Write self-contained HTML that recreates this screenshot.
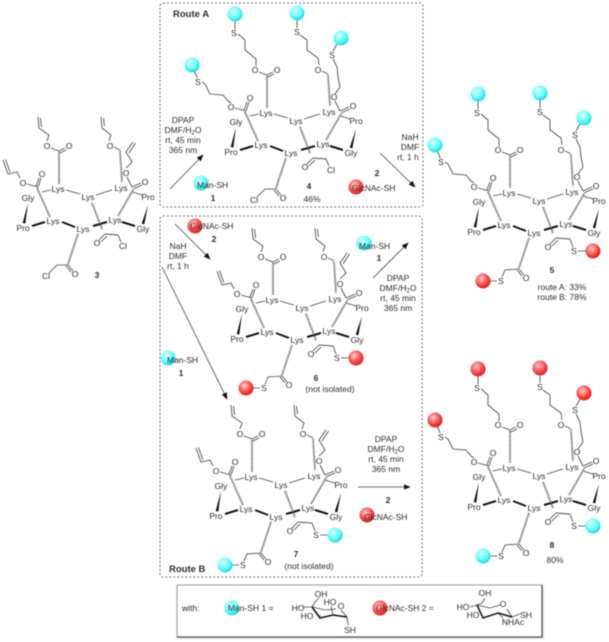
<!DOCTYPE html>
<html><head><meta charset="utf-8"><style>
html,body{margin:0;padding:0;background:#fff}
svg{display:block;filter:blur(.45px)}
text{font-family:"Liberation Sans",sans-serif;font-size:8.5px;fill:#2c2c2c}
.m{text-anchor:middle}
.b{font-weight:bold}
.l{fill:none;stroke:#444;stroke-width:.85}
.th{fill:none;stroke:#111;stroke-width:2}
.w{fill:none;stroke:#555;stroke-width:2;stroke-dasharray:1 .8}
.a{fill:none;stroke:#444;stroke-width:.8}
</style></head><body>
<svg width="609" height="642" viewBox="0 0 609 642" xmlns="http://www.w3.org/2000/svg">
<defs>
<radialGradient id="c" cx=".4" cy=".35" r=".7"><stop offset="0" stop-color="#e8ffff"/><stop offset=".6" stop-color="#5ff"/><stop offset="1" stop-color="#1cd"/></radialGradient>
<radialGradient id="r" cx=".4" cy=".35" r=".7"><stop offset="0" stop-color="#ffd0d0"/><stop offset=".6" stop-color="#f44"/><stop offset="1" stop-color="#d11"/></radialGradient>
<marker id="ah" viewBox="0 0 10 8" refX="9" refY="4" markerWidth="7" markerHeight="5.500" markerUnits="userSpaceOnUse" orient="auto"><path d="M0 0L10 4L0 8z" fill="#111"/></marker>
<g id="core">
<path class="l" d="M66 190L80 194M96 195L112 190M42 192L51 190M132 192L142 195M38 187L41 178M36 186L39 178M59 151L65 148M60 153L66 150M51 148L59 151M27 184L38 187M132 187L141 183M133 189L142 185M127 177L132 187M114 147L120 150M105 234L99 240M107 236L101 242M105 234L118 235M68 265L73 271M66 266L71 272"/>
<path class="th" d="M32 226L45 222M62 222L75 227M93 226L107 222M122 222L135 226"/>
<path d="M28 203L22.700 223L25.300 223.600z M148 205L141.700 223.600L144.300 224.400z" fill="#111"/>
<path class="w" d="M59 152L59 184M37 188L50 217M120 151L122 182M133 190L118 216M92 203L102 229M78 234L68 264"/>
</g>
<path id="allyl" class="l" d="M20 178L17 172L8 174L3 160M5.500 159.500L10 172M47 141L49 135L39 128L38 117M40.500 118L41.500 127M109 141L111 135L102 128L101 117M103.500 118L104.500 126M126 168L132 162L126 152L133 142M135.500 143L129 153"/>
<path id="arms" class="l" d="M23 179L20 177L15 171L2 170L-3 160L-6 158M-11 154L-12 151L-14 147M48 142L48 135L37 126L37 116L30 110M27 105L27 97M111 141L110 134L99 126L99 116L92 111M89 104L89 96M127 170L132 163L130 153L129 143L125 135M125 127L129 120"/>
<path id="cl" class="l" d="M105 234L118 235L121 242M68 265L57 265L49 273"/>
<path id="sarm" class="l" d="M105 234L119 235L122 243M127 247L135 247M68 265L54 266L51 273M46 277L39 277"/>
</defs>
<rect width="609" height="642" fill="#fff"/>

<!-- boxes -->
<rect x="160" y="3" width="263" height="204" rx="3" fill="none" stroke="#444" stroke-width=".8" stroke-dasharray="2 2"/>
<rect x="160" y="216" width="262" height="361" rx="3" fill="none" stroke="#444" stroke-width=".8" stroke-dasharray="2 2"/>
<text x="173" y="17" style="font-size:9.500px" class="b">Route A</text>
<text x="169" y="572" style="font-size:9.500px" class="b">Route B</text>

<!-- compound 3 -->
<use href="#core"/><use href="#allyl"/><use href="#cl"/>
<g class="m">
<text class="m" x="58" y="192">Lys</text><text class="m" x="88" y="200">Lys</text><text class="m" x="121" y="191">Lys</text><text class="m" x="53" y="224">Lys</text><text class="m" x="83" y="232">Lys</text><text class="m" x="115" y="223">Lys</text>
<text class="m" x="28" y="201">Gly</text><text class="m" x="23" y="231">Pro</text><text class="m" x="148" y="200">Pro</text><text class="m" x="143" y="232">Gly</text>
<text class="m" x="42" y="177">O</text><text class="m" x="69" y="149">O</text><text class="m" x="145" y="185">O</text><text class="m" x="97" y="246">O</text><text class="m" x="75" y="277">O</text>
<text class="m" x="23" y="186">O</text><text class="m" x="47" y="149">O</text><text class="m" x="110" y="149">O</text><text class="m" x="126" y="176">O</text>
<text class="m" x="123" y="249">Cl</text><text class="m" x="46" y="279">Cl</text>
<text class="m b" x="97" y="278">3</text>
</g>

<!-- compound 4 -->
<g transform="translate(208,-76)">
<use href="#core"/><use href="#arms"/><use href="#cl"/>
<circle cx="-16" cy="141" r="7.500" fill="url(#c)"/><circle cx="27" cy="90" r="7.500" fill="url(#c)"/><circle cx="89" cy="89" r="7.500" fill="url(#c)"/><circle cx="133" cy="114" r="7.500" fill="url(#c)"/>
<text class="m" x="-10" y="161">S</text><text class="m" x="26" y="112">S</text><text class="m" x="89" y="111">S</text><text class="m" x="124" y="134">S</text>
<text class="m" x="58" y="192">Lys</text><text class="m" x="88" y="200">Lys</text><text class="m" x="121" y="191">Lys</text><text class="m" x="53" y="224">Lys</text><text class="m" x="83" y="232">Lys</text><text class="m" x="115" y="223">Lys</text>
<text class="m" x="28" y="201">Gly</text><text class="m" x="23" y="231">Pro</text><text class="m" x="148" y="200">Pro</text><text class="m" x="143" y="232">Gly</text>
<text class="m" x="42" y="177">O</text><text class="m" x="69" y="149">O</text><text class="m" x="145" y="185">O</text><text class="m" x="97" y="246">O</text><text class="m" x="75" y="277">O</text>
<text class="m" x="23" y="186">O</text><text class="m" x="47" y="149">O</text><text class="m" x="110" y="149">O</text><text class="m" x="126" y="176">O</text>
<text class="m" x="123" y="249">Cl</text><text class="m" x="46" y="279">Cl</text>
</g>
<text class="m b" x="309" y="189">4</text><text class="m" x="312" y="202">46%</text>

<!-- compound 6 -->
<g transform="translate(214,111)">
<use href="#core"/><use href="#allyl"/><use href="#sarm"/>
<circle cx="142" cy="247" r="7.500" fill="url(#r)"/><circle cx="32" cy="277" r="7.500" fill="url(#r)"/>
<text class="m" x="123" y="250">S</text><text class="m" x="50" y="280">S</text>
<text class="m" x="58" y="192">Lys</text><text class="m" x="88" y="200">Lys</text><text class="m" x="121" y="191">Lys</text><text class="m" x="53" y="224">Lys</text><text class="m" x="83" y="232">Lys</text><text class="m" x="115" y="223">Lys</text>
<text class="m" x="28" y="201">Gly</text><text class="m" x="23" y="231">Pro</text><text class="m" x="148" y="200">Pro</text><text class="m" x="143" y="232">Gly</text>
<text class="m" x="42" y="177">O</text><text class="m" x="69" y="149">O</text><text class="m" x="145" y="185">O</text><text class="m" x="97" y="246">O</text><text class="m" x="75" y="277">O</text>
<text class="m" x="23" y="186">O</text><text class="m" x="47" y="149">O</text><text class="m" x="110" y="149">O</text><text class="m" x="126" y="176">O</text>
</g>
<text class="m b" x="316" y="381">6</text><text class="m" x="330" y="392">(not isolated)</text>

<!-- compound 7 -->
<g transform="translate(193,288)">
<use href="#core"/><use href="#allyl"/><use href="#sarm"/>
<circle cx="142" cy="247" r="7.500" fill="url(#c)"/><circle cx="32" cy="277" r="7.500" fill="url(#c)"/>
<text class="m" x="123" y="250">S</text><text class="m" x="50" y="280">S</text>
<text class="m" x="58" y="192">Lys</text><text class="m" x="88" y="200">Lys</text><text class="m" x="121" y="191">Lys</text><text class="m" x="53" y="224">Lys</text><text class="m" x="83" y="232">Lys</text><text class="m" x="115" y="223">Lys</text>
<text class="m" x="28" y="201">Gly</text><text class="m" x="23" y="231">Pro</text><text class="m" x="148" y="200">Pro</text><text class="m" x="143" y="232">Gly</text>
<text class="m" x="42" y="177">O</text><text class="m" x="69" y="149">O</text><text class="m" x="145" y="185">O</text><text class="m" x="97" y="246">O</text><text class="m" x="75" y="277">O</text>
<text class="m" x="23" y="186">O</text><text class="m" x="47" y="149">O</text><text class="m" x="110" y="149">O</text><text class="m" x="126" y="176">O</text>
</g>
<text class="m b" x="296" y="557">7</text><text class="m" x="309" y="569">(not isolated)</text>

<!-- compound 5 -->
<g transform="translate(451,4)">
<use href="#core"/><use href="#arms"/><use href="#sarm"/>
<circle cx="-16" cy="141" r="7.500" fill="url(#c)"/><circle cx="27" cy="90" r="7.500" fill="url(#c)"/><circle cx="89" cy="89" r="7.500" fill="url(#c)"/><circle cx="133" cy="114" r="7.500" fill="url(#c)"/>
<circle cx="142" cy="247" r="7.500" fill="url(#r)"/><circle cx="32" cy="277" r="7.500" fill="url(#r)"/>
<text class="m" x="-10" y="161">S</text><text class="m" x="26" y="112">S</text><text class="m" x="89" y="111">S</text><text class="m" x="124" y="134">S</text>
<text class="m" x="123" y="250">S</text><text class="m" x="50" y="280">S</text>
<text class="m" x="58" y="192">Lys</text><text class="m" x="88" y="200">Lys</text><text class="m" x="121" y="191">Lys</text><text class="m" x="53" y="224">Lys</text><text class="m" x="83" y="232">Lys</text><text class="m" x="115" y="223">Lys</text>
<text class="m" x="28" y="201">Gly</text><text class="m" x="23" y="231">Pro</text><text class="m" x="148" y="200">Pro</text><text class="m" x="143" y="232">Gly</text>
<text class="m" x="42" y="177">O</text><text class="m" x="69" y="149">O</text><text class="m" x="145" y="185">O</text><text class="m" x="97" y="246">O</text><text class="m" x="75" y="277">O</text>
<text class="m" x="23" y="186">O</text><text class="m" x="47" y="149">O</text><text class="m" x="110" y="149">O</text><text class="m" x="126" y="176">O</text>
</g>
<text class="m b" x="552" y="273">5</text><text class="m" x="562" y="290">route A: 33%</text><text class="m" x="562" y="300">route B: 78%</text>

<!-- compound 8 -->
<g transform="translate(451,279)">
<use href="#core"/><use href="#arms"/><use href="#sarm"/>
<circle cx="-16" cy="141" r="7.500" fill="url(#r)"/><circle cx="27" cy="90" r="7.500" fill="url(#r)"/><circle cx="89" cy="89" r="7.500" fill="url(#r)"/><circle cx="133" cy="114" r="7.500" fill="url(#r)"/>
<circle cx="142" cy="247" r="7.500" fill="url(#c)"/><circle cx="32" cy="277" r="7.500" fill="url(#c)"/>
<text class="m" x="-10" y="161">S</text><text class="m" x="26" y="112">S</text><text class="m" x="89" y="111">S</text><text class="m" x="124" y="134">S</text>
<text class="m" x="123" y="250">S</text><text class="m" x="50" y="280">S</text>
<text class="m" x="58" y="192">Lys</text><text class="m" x="88" y="200">Lys</text><text class="m" x="121" y="191">Lys</text><text class="m" x="53" y="224">Lys</text><text class="m" x="83" y="232">Lys</text><text class="m" x="115" y="223">Lys</text>
<text class="m" x="28" y="201">Gly</text><text class="m" x="23" y="231">Pro</text><text class="m" x="148" y="200">Pro</text><text class="m" x="143" y="232">Gly</text>
<text class="m" x="42" y="177">O</text><text class="m" x="69" y="149">O</text><text class="m" x="145" y="185">O</text><text class="m" x="97" y="246">O</text><text class="m" x="75" y="277">O</text>
<text class="m" x="23" y="186">O</text><text class="m" x="47" y="149">O</text><text class="m" x="110" y="149">O</text><text class="m" x="126" y="176">O</text>
</g>
<text class="m b" x="552" y="548">8</text><text class="m" x="555" y="563">80%</text>

<!-- arrows -->
<path class="a" d="M170 189L203 155" marker-end="url(#ah)"/>
<path class="a" d="M380 153L415 187" marker-end="url(#ah)"/>
<path class="a" d="M175 224L210 259" marker-end="url(#ah)"/>
<path class="a" d="M162 267L227 399" marker-end="url(#ah)"/>
<path class="a" d="M373 278L408 243" marker-end="url(#ah)"/>
<path class="a" d="M358 487L410 487" marker-end="url(#ah)"/>

<!-- reagents route A -->
<text class="m" x="183" y="123">DPAP</text>
<text class="m" x="183" y="133">DMF/H<tspan dy="1.500" style="font-size:6px">2</tspan><tspan dy="-1.500">O</tspan></text>
<text class="m" x="183" y="143">rt, 45 min</text>
<text class="m" x="183" y="153">365 nm</text>
<circle cx="201" cy="183" r="7.500" fill="url(#c)"/><text x="197" y="188">Man-SH</text>
<text class="m b" x="213" y="201">1</text>
<text class="m" x="410" y="140">NaH</text><text class="m" x="410" y="150">DMF</text><text class="m" x="408" y="160">rt, 1 h</text>
<text class="m b" x="377" y="176">2</text>
<circle cx="356" cy="187" r="7.500" fill="url(#r)"/><text x="352" y="191">GlcNAc-SH</text>

<!-- reagents route B -->
<circle cx="195" cy="226" r="7.500" fill="url(#r)"/><text x="190" y="229">GlcNAc-SH</text>
<text class="m b" x="214" y="242">2</text>
<text class="m" x="178" y="249">NaH</text><text class="m" x="178" y="259">DMF</text><text class="m" x="178" y="269">rt, 1 h</text>
<circle cx="168" cy="358" r="7.500" fill="url(#c)"/><text x="167" y="363">Man-SH</text>
<text class="m b" x="181" y="376">1</text>
<circle cx="364" cy="243" r="7.500" fill="url(#c)"/><text x="359" y="249">Man-SH</text>
<text class="m b" x="379" y="261">1</text>
<text class="m" x="398" y="281">DPAP</text>
<text class="m" x="398" y="291">DMF/H<tspan dy="1.500" style="font-size:6px">2</tspan><tspan dy="-1.500">O</tspan></text>
<text class="m" x="398" y="301">rt, 45 min</text>
<text class="m" x="398" y="311">365 nm</text>
<text class="m" x="386" y="442">DPAP</text>
<text class="m" x="386" y="452">DMF/H<tspan dy="1.500" style="font-size:6px">2</tspan><tspan dy="-1.500">O</tspan></text>
<text class="m" x="386" y="462">rt, 45 min</text>
<text class="m" x="386" y="472">365 nm</text>
<text class="m b" x="388" y="503">2</text>
<circle cx="367" cy="515" r="7.500" fill="url(#r)"/><text x="364" y="520">GlcNAc-SH</text>

<!-- legend -->
<rect x="179" y="587" width="365" height="52" fill="#ddd"/>
<rect x="177" y="585" width="365" height="52" fill="#fff" stroke="#aaa" stroke-width="1.300"/>
<path d="M177 637H542V585" fill="none" stroke="#444" stroke-width="1"/>
<text x="182" y="611">with:</text>
<circle cx="232" cy="608" r="7.500" fill="url(#c)"/><text x="228" y="611">Man-SH 1 =</text>
<circle cx="380" cy="608" r="7.500" fill="url(#r)"/><text x="376" y="611">GlcNAc-SH 2 =</text>
<path class="l" d="M325 610L312 607M325 610L336 609M341 610L347 617M315 602L312 607M315 602L319 598M347 617L348 625M303 607L312 607"/>
<path class="th" style="stroke-width:1.500" d="M312 607L320 618L333 615L347 617"/>
<path class="l" d="M320 618L320 615M333 615L331 606"/>
<text class="m" x="321" y="597">OH</text><text class="m" x="298" y="611">HO</text><text class="m" x="330" y="605">HO</text><text class="m" x="341" y="609">O</text><text class="m" x="307" y="619">HO</text><text class="m" x="350" y="633">SH</text>
<path class="l" d="M490 608L477 605M490 608L500 605M507 609L512 617M482 603L477 605M482 603L485 598M512 617L520 614M498 613L503 618M470 607L477 605"/>
<path class="th" style="stroke-width:1.500" d="M477 605L483 618L498 613L512 617"/>
<text class="m" x="485" y="596">OH</text><text class="m" x="463" y="610">HO</text><text class="m" x="503" y="607">O</text><text class="m" x="473" y="618">HO</text><text class="m" x="526" y="618">SH</text><text class="m" x="513" y="625">NHAc</text>
</svg>
</body></html>
